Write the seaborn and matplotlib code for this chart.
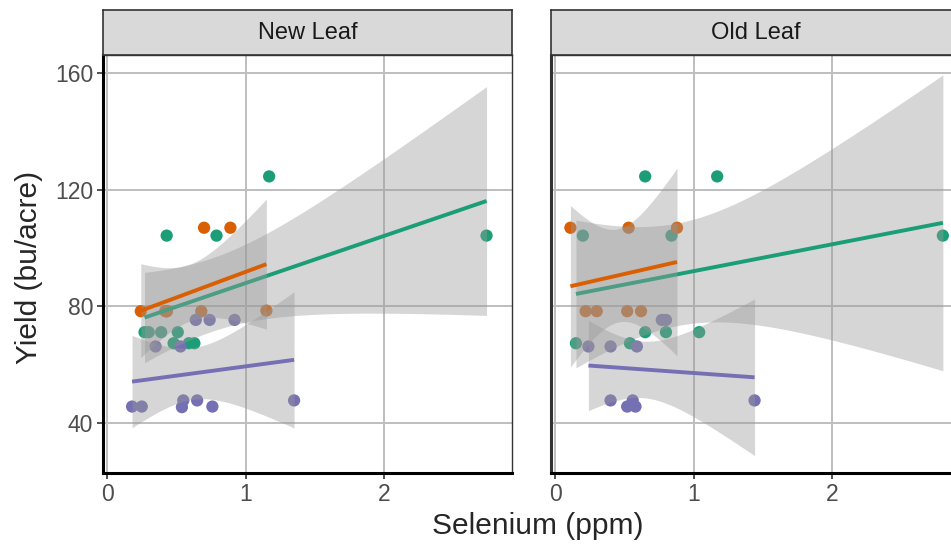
import numpy as np
import pandas as pd
import matplotlib.pyplot as plt
import seaborn as sns

# Groups and colours (Dark2)
groups = ["A", "B", "C"]
colors = ["#1B9E77", "#D95F02", "#7570B3"]
panels = ["New Leaf", "Old Leaf"]

# New Leaf selenium (ppm) and yield (bu/acre)
new_a_se = [0.43, 0.79, 1.17, 2.74, 0.27, 0.30, 0.39, 0.51, 0.48, 0.59, 0.63]
new_a_yield = [104.3, 104.3, 124.6, 104.3, 71.2, 71.2, 71.2, 71.2, 67.4, 67.4, 67.4]
new_b_se = [0.70, 0.89, 0.243, 0.42, 0.43, 0.43, 0.43, 0.68, 1.15]
new_b_yield = [107.0, 107.0, 78.4, 78.4, 78.4, 78.4, 78.4, 78.4, 78.6]
new_c_se = [0.64, 0.74, 0.92, 0.35, 0.53, 0.18, 0.25, 0.54, 0.76, 0.55, 0.65, 1.35]
new_c_yield = [75.4, 75.4, 75.4, 66.3, 66.3, 45.7, 45.7, 45.5, 45.7, 47.8, 47.8, 47.8]

# Old Leaf selenium (ppm) and yield (bu/acre)
old_a_se = [0.65, 1.17, 0.20, 0.84, 2.80, 0.65, 0.80, 1.04, 0.15, 0.54]
old_a_yield = [124.6, 124.6, 104.3, 104.3, 104.3, 71.2, 71.2, 71.2, 67.4, 67.4]
old_b_se = [0.11, 0.53, 0.88, 0.22, 0.30, 0.52, 0.62]
old_b_yield = [107.0, 107.0, 107.0, 78.4, 78.4, 78.4, 78.4]
old_c_se = [0.77, 0.80, 0.24, 0.40, 0.59, 0.40, 0.56, 0.52, 0.58, 1.44]
old_c_yield = [75.4, 75.4, 66.3, 66.3, 66.3, 47.8, 47.8, 45.7, 45.7, 47.8]

x_ticks = [0, 1, 2]
y_ticks = [40, 80, 120, 160]

# 97.5% t quantiles for the lm confidence band
T975 = {3: 3.182, 4: 2.776, 5: 2.571, 6: 2.447, 7: 2.365, 8: 2.306, 9: 2.262,
        10: 2.228, 11: 2.201, 12: 2.179, 13: 2.160, 14: 2.145, 15: 2.131}

# Build long table
rows = []
for panel, parts in zip(panels, [
        [(new_a_se, new_a_yield), (new_b_se, new_b_yield), (new_c_se, new_c_yield)],
        [(old_a_se, old_a_yield), (old_b_se, old_b_yield), (old_c_se, old_c_yield)]]):
    for g, (se, yl) in zip(groups, parts):
        for s, y in zip(se, yl):
            rows.append({"leaf": panel, "group": g, "selenium": s, "yield": y})
df = pd.DataFrame(rows)


def lm_band(x, y, n=80):
    x = np.asarray(x, float)
    y = np.asarray(y, float)
    b, a = np.polyfit(x, y, 1)
    grid = np.linspace(x.min(), x.max(), n)
    resid = y - (a + b * x)
    s = np.sqrt((resid ** 2).sum() / (len(x) - 2))
    se = s * np.sqrt(1 / len(x) + (grid - x.mean()) ** 2 / ((x - x.mean()) ** 2).sum())
    fit = a + b * grid
    t = T975[len(x) - 2]
    return grid, fit - t * se, fit + t * se


sns.set_style("white")
plt.rcParams['font.family'] = ['Liberation Sans', 'DejaVu Sans']

fig, axes = plt.subplots(1, 2, figsize=(9.51, 5.45), sharey=True)
fig.subplots_adjust(left=0.1083, right=1.0095, bottom=0.132, top=0.899, wspace=0.0954)

for k, (ax, panel) in enumerate(zip(axes, panels)):
    d = df[df.leaf == panel]
    ax.set_axisbelow(True)
    sns.scatterplot(data=d, x="selenium", y="yield", hue="group", hue_order=groups,
                    palette=colors, s=78, linewidth=0, legend=False, ax=ax, zorder=1)
    for i, (g, c) in enumerate(zip(groups, colors)):
        dg = d[d.group == g]
        gx, lo, hi = lm_band(dg.selenium, dg["yield"])
        ax.fill_between(gx, lo, hi, color="#999999", alpha=0.4, lw=0, zorder=3 + 2 * i)
        sns.regplot(data=dg, x="selenium", y="yield", scatter=False, ci=None,
                    color=c, ax=ax,
                    line_kws=dict(lw=2.8, zorder=4 + 2 * i, solid_capstyle="butt"))

    ax.set_xlim(-0.03, 2.924)
    ax.set_ylim(22.9, 166.2)
    ax.set_xticks(x_ticks)
    ax.set_yticks(y_ticks)
    ax.grid(True, color="#BEBEBE", lw=1.4)
    ax.set_xlabel("")
    ax.set_ylabel("")
    ax.tick_params(axis="both", length=4, width=1.2, color="#333333",
                   labelsize=16.5, labelcolor="#4D4D4D", pad=3, bottom=True,
                   left=(k == 0))
    for side in ["top", "right"]:
        ax.spines[side].set_color("#333333")
        ax.spines[side].set_linewidth(1.0)
    ax.spines["left"].set_color("black" if k == 0 else "#333333")
    ax.spines["left"].set_linewidth(2.2)
    ax.spines["bottom"].set_color("black")
    ax.spines["bottom"].set_linewidth(2.2)

    # facet strip
    pos = ax.get_position()
    strip = fig.add_axes([pos.x0, pos.y1, pos.width, 0.9817 - pos.y1])
    strip.set_facecolor("#D9D9D9")
    strip.set_xticks([])
    strip.set_yticks([])
    for sp in strip.spines.values():
        sp.set_color("#333333")
        sp.set_linewidth(1.2)
    strip.text(0.5, 0.5, panel, ha="center", va="center", fontsize=17,
               color="#1A1A1A", transform=strip.transAxes)

fig.text(0.565, 0.035, "Selenium (ppm)", ha="center", va="center", fontsize=21.5)
fig.text(0.030, 0.51, "Yield (bu/acre)", ha="center", va="center", rotation=90, fontsize=21.5)

fig.savefig("out.png", dpi=100)
